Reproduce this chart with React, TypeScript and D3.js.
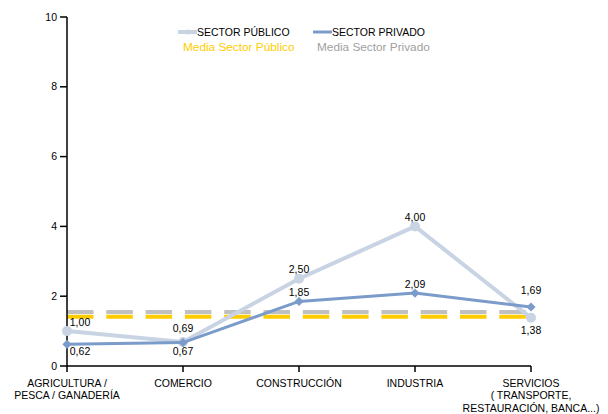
import React from "react";
import * as d3 from "d3";

const categories = ["AGRICULTURA / PESCA / GANADERÍA", "COMERCIO", "CONSTRUCCIÓN", "INDUSTRIA", "SERVICIOS ( TRANSPORTE, RESTAURACIÓN, BANCA...)"];
const categoryLines = [
  ["AGRICULTURA /", "PESCA / GANADERÍA"],
  ["COMERCIO"],
  ["CONSTRUCCIÓN"],
  ["INDUSTRIA"],
  ["SERVICIOS", "( TRANSPORTE,", "RESTAURACIÓN, BANCA...)"],
];
const publico = [1.0, 0.69, 2.5, 4.0, 1.38];
const privado = [0.62, 0.67, 1.85, 2.09, 1.69];
const mediaPublico = 1.41;
const mediaPrivado = 1.55;
const yTicks = [0, 2, 4, 6, 8, 10];
const seriesNames = ["SECTOR PÚBLICO", "SECTOR PRIVADO"];
const mediaNames = ["Media Sector Público", "Media Sector Privado"];

// label placement (offsets in px from the point)
const pubLabelOff = [[13, -8.5], [0, -14], [0, -9.5], [0, -9.5], [0, 12.5]];
const privLabelOff = [[13, 7], [0, 8.5], [0, -9.5], [0, -9], [0, -16.5]];

const W = 608, H = 414;
const LIGHT = "#C8D3E3";
const DARK = "#7B9BCB";
const YELLOW = "#FFCC00";
const GRAY = "#C0C0C0";
const FONT = "'Liberation Sans', Arial, sans-serif";

const fmt = (v: number) => v.toFixed(2).replace(".", ",");

export default function App() {
  const x = d3.scalePoint<string>().domain(categories).range([67, 531]);
  const y = d3.scaleLinear().domain([0, 10]).range([366, 17]);
  const line = d3.line<number>().x((_, i) => x(categories[i])!).y((d) => y(d));
  const diamond = d3.symbol().type(d3.symbolSquare).size(42)()!;
  const [x0, x1] = x.range();

  return (
    <div style={{ position: "absolute", left: 0, top: 0 }}>
      <svg width={W} height={H} style={{ display: "block", fontFamily: FONT }}>
        <rect width={W} height={H} fill="#fff" />
        {/* mean lines */}
        <line x1={x0} x2={x1} y1={y(mediaPrivado)} y2={y(mediaPrivado)} stroke={GRAY} strokeWidth={4} strokeDasharray="26.5,12.8" />
        <line x1={x0} x2={x1} y1={y(mediaPublico)} y2={y(mediaPublico)} stroke={YELLOW} strokeWidth={4} strokeDasharray="26.5,12.8" />

        {/* axes */}
        <line x1={x0} x2={x0} y1={y(10)} y2={y(0)} stroke="#000" strokeWidth={1.5} />
        <line x1={x0} x2={x1} y1={y(0)} y2={y(0)} stroke="#000" strokeWidth={1.5} />
        {yTicks.map((t) => (
          <g key={t}>
            <line x1={x0 - 7} x2={x0} y1={y(t)} y2={y(t)} stroke="#000" strokeWidth={1.5} />
            <text x={x0 - 10} y={y(t)} dy="0.35em" textAnchor="end" fontSize={10.5} fill="#000">{t}</text>
          </g>
        ))}
        {categories.map((c, i) => (
          <g key={c}>
            <line x1={x(c)} x2={x(c)} y1={y(0)} y2={y(0) + 6} stroke="#000" strokeWidth={1.5} />
            {categoryLines[i].map((l, j) => (
              <text key={j} x={x(c)} y={383 + j * 12.5} dy="0.35em" textAnchor="middle" fontSize={10.5} fill="#000">{l}</text>
            ))}
          </g>
        ))}

        {/* public series */}
        <path d={line(publico)!} fill="none" stroke={LIGHT} strokeWidth={4} />
        {publico.map((v, i) => (
          <circle key={i} cx={x(categories[i])} cy={y(v)} r={5} fill={LIGHT} />
        ))}
        {/* private series */}
        <path d={line(privado)!} fill="none" stroke={DARK} strokeWidth={3} />
        {privado.map((v, i) => (
          <path key={i} d={diamond} transform={`translate(${x(categories[i])},${y(v)}) rotate(45)`} fill={DARK} />
        ))}

        {/* value labels */}
        {publico.map((v, i) => (
          <text key={"p" + i} x={x(categories[i])! + pubLabelOff[i][0]} y={y(v) + pubLabelOff[i][1]} dy="0.35em" textAnchor="middle" fontSize={10.5} fill="#000">{fmt(v)}</text>
        ))}
        {privado.map((v, i) => (
          <text key={"q" + i} x={x(categories[i])! + privLabelOff[i][0]} y={y(v) + privLabelOff[i][1]} dy="0.35em" textAnchor="middle" fontSize={10.5} fill="#000">{fmt(v)}</text>
        ))}

        {/* legend */}
        <g>
          <line x1={178} x2={197} y1={32} y2={32} stroke={LIGHT} strokeWidth={4} />
          <circle cx={187.5} cy={32} r={2.5} fill={LIGHT} />
          <text x={197} y={32} dy="0.35em" fontSize={10.5} fill="#000">{seriesNames[0]}</text>
          <line x1={313} x2={332} y1={32} y2={32} stroke={DARK} strokeWidth={3} />
          <text x={332} y={32} dy="0.35em" fontSize={10.5} fill="#000">{seriesNames[1]}</text>
          <text x={183} y={46.5} dy="0.35em" fontSize={11.8} fill={YELLOW}>{mediaNames[0]}</text>
          <text x={317} y={46.5} dy="0.35em" fontSize={11.8} fill="#A0A0A0">{mediaNames[1]}</text>
        </g>
      </svg>
    </div>
  );
}
